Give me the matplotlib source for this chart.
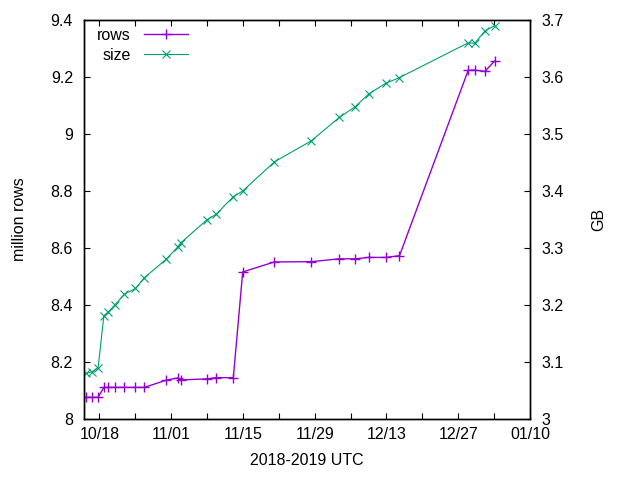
#!/usr/bin/env python3
import matplotlib
matplotlib.use('Agg')
import matplotlib.pyplot as plt
import matplotlib.dates as mdates
import numpy as np
import pandas as pd

plt.rcParams['font.family'] = ['Liberation Sans', 'DejaVu Sans']
plt.rcParams['font.size'] = 11.5

times = pd.to_datetime([
    '2018-10-15 10:00', '2018-10-16 14:00', '2018-10-17 18:00', '2018-10-18 21:00',
    '2018-10-19 18:00', '2018-10-21 00:00', '2018-10-22 21:00', '2018-10-25 01:00',
    '2018-10-26 19:00', '2018-10-31 00:00', '2018-11-02 07:00', '2018-11-02 21:00',
    '2018-11-08 01:00', '2018-11-09 18:00', '2018-11-13 03:00', '2018-11-14 23:00',
    '2018-11-21 03:00', '2018-11-28 08:00', '2018-12-03 19:00', '2018-12-06 22:00',
    '2018-12-09 12:00', '2018-12-12 21:00', '2018-12-15 13:00', '2018-12-28 23:00',
    '2018-12-30 05:00', '2019-01-01 05:30', '2019-01-03 02:00',
])
rows = [
    8.076, 8.076, 8.076, 8.111, 8.111, 8.111, 8.111, 8.111, 8.111, 8.136,
    8.144, 8.137, 8.141, 8.145, 8.145, 8.516, 8.551, 8.552, 8.562, 8.562,
    8.567, 8.567, 8.573, 9.224, 9.224, 9.220, 9.256,
]
size_gb = [
    3.080, 3.083, 3.090, 3.181, 3.188, 3.200, 3.219, 3.229, 3.248, 3.280,
    3.302, 3.309, 3.350, 3.359, 3.390, 3.400, 3.451, 3.488, 3.529, 3.548,
    3.570, 3.589, 3.599, 3.660, 3.659, 3.681, 3.690,
]

purple = '#9400d3'
green = '#009e73'

fig = plt.figure(figsize=(6.4, 4.8), dpi=100)
ax = fig.add_axes([84 / 640, 61 / 480, 446 / 640, 399 / 480])
ax2 = ax.twinx()

l1, = ax.plot(times, rows, color=purple, lw=1.0, marker='+', ms=6.5, mew=1.0, label='rows')
l2, = ax2.plot(times, size_gb, color=green, lw=0.8, marker='x', ms=5.5, mew=0.8, label='size')

ax.set_xlim(pd.Timestamp('2018-10-15'), pd.Timestamp('2019-01-10'))
ax.set_ylim(8.0, 9.4)
ax2.set_ylim(3.0, 3.7)
ax.set_yticks(np.arange(8.0, 9.41, 0.2))
ax2.set_yticks(np.arange(3.0, 3.71, 0.1))
ax.yaxis.set_major_formatter(matplotlib.ticker.FuncFormatter(lambda v, p: '%g' % round(v, 2)))
ax2.yaxis.set_major_formatter(matplotlib.ticker.FuncFormatter(lambda v, p: '%g' % round(v, 2)))

start = pd.Timestamp('2018-10-18')
major = [start + pd.Timedelta(days=14 * i) for i in range(7)]
minor = [start + pd.Timedelta(days=7 + 14 * i) for i in range(6)]
ax.set_xticks(major)
ax.set_xticks(minor, minor=True)
ax.xaxis.set_major_formatter(mdates.DateFormatter('%m/%d'))

for a in (ax, ax2):
    for s in a.spines.values():
        s.set_linewidth(1.0)
ax.tick_params(axis='x', which='both', direction='in', length=4, width=0.8, top=True, pad=6)
ax.tick_params(axis='y', direction='in', length=4, width=0.8, right=False, pad=8)
ax2.tick_params(axis='y', direction='in', length=4, width=0.8, pad=8)

ax.set_xlabel('2018-2019 UTC', labelpad=8)
ax.set_ylabel('million rows', labelpad=17)
ax2.set_ylabel('GB', labelpad=20)

leg = ax.legend([l1, l2], ['rows', 'size'], loc='upper left', frameon=False,
                markerfirst=False, handlelength=2.8, handletextpad=0.8,
                borderaxespad=0.2, labelspacing=0.32,
                bbox_to_anchor=(0.008, 1.005))

fig.savefig('out.png', dpi=100)
